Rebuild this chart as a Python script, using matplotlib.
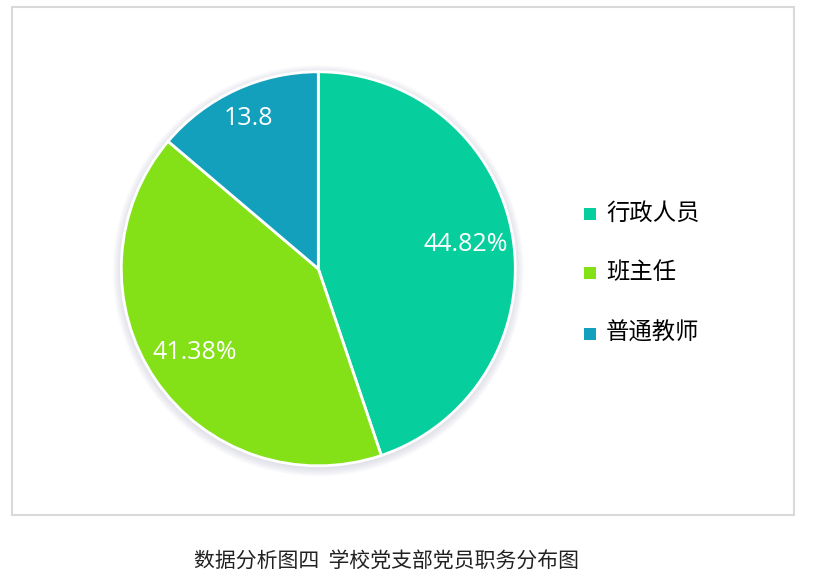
import numpy as np
import matplotlib
matplotlib.use("Agg")
import matplotlib.pyplot as plt
from matplotlib.patches import Circle, Rectangle

plt.rcParams['font.family'] = ['Noto Sans CJK SC', 'DejaVu Sans']

# Party-member duty distribution
categories = ['行政人员', '班主任', '普通教师']
values = [44.82, 41.38, 13.8]
value_suffix = ['%', '%', '']
colors = ['#06CE9D', '#84E118', '#12A0BD']
caption = '数据分析图四  学校党支部党员职务分布图'

W, H = 819, 577
fig = plt.figure(figsize=(W / 100, H / 100), dpi=100)
fig.patch.set_facecolor('white')

# outer light frame
frame = fig.add_axes([0, 0, 1, 1])
frame.set_xlim(0, W)
frame.set_ylim(H, 0)
frame.axis('off')
frame.add_patch(Rectangle((12, 7), 782, 508, fill=False, edgecolor='#d9d9d9', lw=1.5))

# pie axes (square in pixels), with a margin for the shadow
cx, cy, r = 318.3, 268.8, 197.0
pad = 1.1
ax = fig.add_axes([(cx - pad * r) / W, (H - cy - pad * r) / H,
                   2 * pad * r / W, 2 * pad * r / H])
ax.axis('off')

# soft shadow under the pie
for i in range(12):
    ax.add_patch(Circle((0, -0.01), 1.0 + 0.004 * i, facecolor='#6a6f8a',
                        alpha=0.016, edgecolor='none', zorder=0))

wedges, _ = ax.pie(values, colors=colors, startangle=90, counterclock=False,
                   radius=1.0,
                   wedgeprops=dict(edgecolor='white', linewidth=2.0))
for w in wedges:
    w.set_zorder(2)
ax.set_xlim(-pad, pad)
ax.set_ylim(-pad, pad)

label_radius = [0.76, 0.76, 0.84]
for w, v, suf, lr in zip(wedges, values, value_suffix, label_radius):
    mid = np.deg2rad((w.theta1 + w.theta2) / 2)
    ax.text(lr * np.cos(mid), lr * np.sin(mid), f'{v}{suf}',
            ha='center', va='center', color='white', fontsize=18,
            family=['Open Sans', 'DejaVu Sans'], zorder=3)

# legend
leg_y = [213.5, 272.5, 333.5]
for name, col, y in zip(categories, colors, leg_y):
    frame.add_patch(Rectangle((584, y - 6), 12, 12, facecolor=col, edgecolor='none'))
    frame.text(606, y, name, ha='left', va='center', fontsize=16.8, color='#000000')

# caption
frame.text(386.5, 562, caption, ha='center', va='center', fontsize=15, color='#222222')

fig.savefig('out.png', dpi=100, facecolor='white')
